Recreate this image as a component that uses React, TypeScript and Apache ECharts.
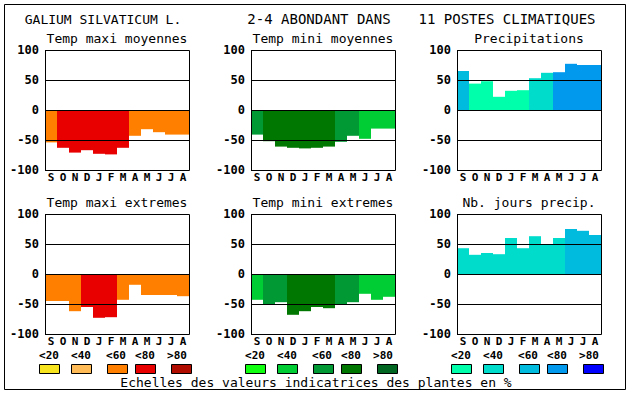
import React, { useEffect, useRef } from "react";
import * as echarts from "echarts";

const months = ["S", "O", "N", "D", "J", "F", "M", "A", "M", "J", "J", "A"];
const yTicks = [-100, -50, 0, 50, 100];

const maxiMoy = [-54, -63, -71, -67, -73, -74, -63, -43, -32, -37, -41, -41];
const maxiMoyClass = [2, 3, 3, 3, 3, 3, 3, 2, 2, 2, 2, 2];
const miniMoy = [-41, -52, -61, -63, -64, -63, -61, -53, -43, -48, -31, -31];
const miniMoyClass = [2, 3, 3, 3, 3, 3, 3, 2, 2, 1, 1, 1];
const precip = [65, 44, 48, 22, 32, 33, 53, 62, 63, 77, 75, 75];
const precipClass = [2, 0, 0, 0, 0, 0, 1, 1, 3, 3, 3, 3];
const maxiExt = [-45, -45, -62, -55, -73, -72, -43, -18, -35, -35, -35, -37];
const maxiExtClass = [2, 2, 2, 3, 3, 3, 2, 2, 2, 2, 2, 2];
const miniExt = [-43, -50, -47, -68, -62, -55, -57, -50, -47, -33, -43, -38];
const miniExtClass = [1, 2, 2, 3, 3, 3, 3, 2, 2, 1, 1, 1];
const nbJours = [43, 32, 35, 33, 60, 43, 63, 50, 60, 75, 72, 65];
const nbJoursClass = [1, 1, 1, 1, 1, 1, 1, 1, 1, 2, 2, 2];

const scaleLabels = ["<20", "<40", "<60", "<80", ">80"];
const warmPalette = ["#f8e41e", "#ffbb55", "#ff8000", "#e80000", "#b00c00"];
const greenPalette = ["#10ff10", "#00cc33", "#009933", "#007700", "#006622"];
const bluePalette = ["#00ffaa", "#00dccc", "#00bbdd", "#0099ee", "#0000ff"];

const panelTitles = [
  "Temp maxi moyennes",
  "Temp mini moyennes",
  "Precipitations",
  "Temp maxi extremes",
  "Temp mini extremes",
  "Nb. jours precip.",
];
const mainTitleParts = ["GALIUM SILVATICUM L.", "2-4 ABONDANT DANS", "11 POSTES CLIMATIQUES"];
const footerText = "Echelles des valeurs indicatrices des plantes en %";

const MONO = '"DejaVu Sans Mono", monospace';

export default function App() {
  const ref = useRef<HTMLDivElement>(null);
  useEffect(() => {
    if (!ref.current) return;
    const chart = echarts.init(ref.current, undefined, { renderer: "svg" });

    const lefts = [45, 251, 457];
    const tops = [50, 214];
    const W = 144;
    const H = 120;
    const panels = [
      { v: maxiMoy, c: maxiMoyClass, p: warmPalette },
      { v: miniMoy, c: miniMoyClass, p: greenPalette },
      { v: precip, c: precipClass, p: bluePalette },
      { v: maxiExt, c: maxiExtClass, p: warmPalette },
      { v: miniExt, c: miniExtClass, p: greenPalette },
      { v: nbJours, c: nbJoursClass, p: bluePalette },
    ];

    const grid: any[] = [];
    const xAxis: any[] = [];
    const yAxis: any[] = [];
    const series: any[] = [];
    const graphic: any[] = [];

    panels.forEach((pn, i) => {
      const col = i % 3;
      const row = Math.floor(i / 3);
      grid.push({ left: lefts[col], top: tops[row], width: W, height: H, containLabel: false });
      xAxis.push({
        type: "category",
        gridIndex: i,
        data: months,
        axisTick: { show: false },
        axisLine: { show: false },
        axisLabel: {
          color: "#000",
          fontFamily: MONO,
          fontWeight: "bold",
          fontSize: 11,
          lineHeight: 11,
          margin: 2,
          interval: 0,
        },
      });
      yAxis.push({
        type: "value",
        gridIndex: i,
        min: yTicks[0],
        max: yTicks[yTicks.length - 1],
        interval: 50,
        z: 10,
        axisLine: { show: false },
        axisTick: { show: false },
        splitLine: { show: true, lineStyle: { color: "#000", width: 1 } },
        axisLabel: {
          color: "#000",
          fontFamily: MONO,
          fontWeight: "bold",
          fontSize: 12,
          margin: 6,
        },
      });
      series.push({
        type: "bar",
        xAxisIndex: i,
        yAxisIndex: i,
        barCategoryGap: "0%",
        barWidth: "100%",
        data: pn.v.map((val, k) => ({ value: val, itemStyle: { color: pn.p[pn.c[k]] } })),
      });
      graphic.push({
        type: "rect",
        shape: { x: lefts[col] + 0.5, y: tops[row] + 0.5, width: W, height: H },
        style: { fill: "none", stroke: "#000", lineWidth: 1 },
        z: 20,
        silent: true,
      });
      graphic.push({
        type: "text",
        x: lefts[col] + W / 2,
        y: tops[row] - 12,
        style: {
          text: panelTitles[i],
          fontFamily: MONO,
          fontSize: 13,
          fill: "#000",
          align: "center",
          verticalAlign: "middle",
        },
      });
    });

    // outer frame
    graphic.push({
      type: "rect",
      shape: { x: 4.5, y: 4.5, width: 621, height: 385 },
      style: { fill: "none", stroke: "#000", lineWidth: 1 },
      silent: true,
    });
    // main title
    const titleCenters = [103, 319, 507];
    const titleSizes = [13, 14, 14];
    mainTitleParts.forEach((t, k) => {
      graphic.push({
        type: "text",
        x: titleCenters[k],
        y: 19,
        style: {
          text: t,
          fontFamily: MONO,
          fontSize: titleSizes[k],
          fill: "#000",
          align: "center",
          verticalAlign: "middle",
        },
      });
    });
    // legend scales
    const boxOffsets = [-6, 26, 62, 90, 126];
    const labelOffsets = [4, 36, 71, 100, 132];
    const palettes = [warmPalette, greenPalette, bluePalette];
    lefts.forEach((lx, g) => {
      scaleLabels.forEach((lab, k) => {
        graphic.push({
          type: "text",
          x: lx + labelOffsets[k],
          y: 355,
          style: {
            text: lab,
            fontFamily: MONO,
            fontWeight: "bold",
            fontSize: 11,
            lineHeight: 11,
            fill: "#000",
            align: "center",
            verticalAlign: "middle",
          },
        });
        graphic.push({
          type: "rect",
          shape: { x: lx + boxOffsets[k] + 0.5, y: 364.5, width: 20, height: 9 },
          style: { fill: palettes[g][k], stroke: "#000", lineWidth: 1 },
        });
      });
    });
    graphic.push({
      type: "text",
      x: 316,
      y: 382,
      style: {
        text: footerText,
        fontFamily: MONO,
        fontSize: 13,
        fill: "#000",
        align: "center",
        verticalAlign: "middle",
      },
    });

    chart.setOption({
      animation: false,
      backgroundColor: "#fff",
      grid,
      xAxis,
      yAxis,
      series,
      graphic,
    });
    return () => chart.dispose();
  }, []);
  return (
    <div
      ref={ref}
      style={{ position: "fixed", left: 0, top: 0, width: 630, height: 394, background: "#fff" }}
    />
  );
}
